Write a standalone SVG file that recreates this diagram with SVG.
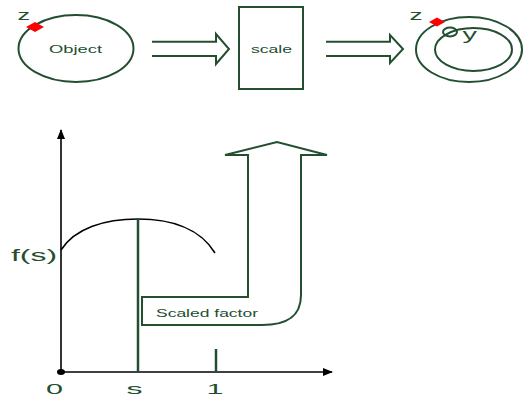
<svg xmlns="http://www.w3.org/2000/svg" width="526" height="398" viewBox="0 0 526 398">
<style>
.g{fill:none;stroke:#234f30;stroke-width:2}
.gt{fill:#234f30;font-family:"Liberation Sans",Arial,sans-serif}
.blk{fill:none;stroke:#000;stroke-width:1.6}
.red{fill:#ff0000;stroke:none}
</style>
<defs>
<marker id="ah" viewBox="0 0 10 8" refX="9" refY="4" markerWidth="10" markerHeight="8" markerUnits="userSpaceOnUse" orient="auto">
<path d="M0,0 L10,4 L0,8 Z" fill="#000"/>
</marker>
</defs>
<g id="object">
<ellipse class="g" cx="76" cy="48.5" rx="57.5" ry="33.5"/>
<text class="gt" x="49" y="53" font-size="11" textLength="53" lengthAdjust="spacingAndGlyphs">Object</text>
<path class="red" d="M26,27 L35,22 L44,27 L35,32 Z"/>
<text class="gt" x="17.5" y="20" font-size="15" textLength="12.5" lengthAdjust="spacingAndGlyphs">z</text>
</g>
<g id="scale">
<rect class="g" x="239" y="7" width="64" height="82"/>
<text class="gt" x="251" y="53" font-size="11" textLength="41" lengthAdjust="spacingAndGlyphs">scale</text>
</g>
<g id="result">
<ellipse class="g" cx="469" cy="49.5" rx="53" ry="32.5"/>
<ellipse class="g" cx="473.5" cy="49.5" rx="38.5" ry="21.5"/>
<ellipse class="g" cx="450" cy="32" rx="7" ry="4.5" fill="#fff"/>
<text class="gt" x="462.5" y="40" font-size="16" textLength="14.5" lengthAdjust="spacingAndGlyphs">y</text>
<path class="red" d="M429,22 L437,17.5 L445,22 L437,26.5 Z"/>
<text class="gt" x="409.5" y="20" font-size="15" textLength="13" lengthAdjust="spacingAndGlyphs">z</text>
</g>
<g id="connectors">
<path class="g" d="M152,41.7 H216 V34 L229,49 L216,64 V56 H152"/>
<path class="g" d="M326,41.7 H390 V35 L403,49 L390,63 V56 H326"/>
</g>
<g id="chart">
<line class="blk" x1="61" y1="372" x2="61" y2="130" marker-end="url(#ah)"/>
<line class="blk" x1="61" y1="372" x2="332" y2="372" marker-end="url(#ah)"/>
<ellipse cx="61" cy="372" rx="4" ry="3" fill="#000"/>
<path class="blk" d="M61,250 C75,228 105,219 138,219 C170,219 200,228 215,253"/>
<line x1="138" y1="219" x2="138" y2="372" stroke="#234f30" stroke-width="2.5"/>
<line x1="216" y1="349" x2="216" y2="372" stroke="#234f30" stroke-width="2.5"/>
<text class="gt" x="11" y="261" font-size="17" textLength="46" lengthAdjust="spacingAndGlyphs">f(s)</text>
<text class="gt" x="46" y="394" font-size="15.5" textLength="17" lengthAdjust="spacingAndGlyphs">0</text>
<text class="gt" x="126.5" y="394" font-size="15.5" textLength="16" lengthAdjust="spacingAndGlyphs">s</text>
<text class="gt" x="206.5" y="394" font-size="15.5" textLength="17" lengthAdjust="spacingAndGlyphs">1</text>
</g>
<g id="scaled-factor">
<path class="g" d="M142,297 H248 V155 H225 L277,142 L327,155 H301 V295 C301,318 285,325 262,325 H142 Z"/>
<text class="gt" x="156" y="317" font-size="11" textLength="102" lengthAdjust="spacingAndGlyphs">Scaled factor</text>
</g>
</svg>
